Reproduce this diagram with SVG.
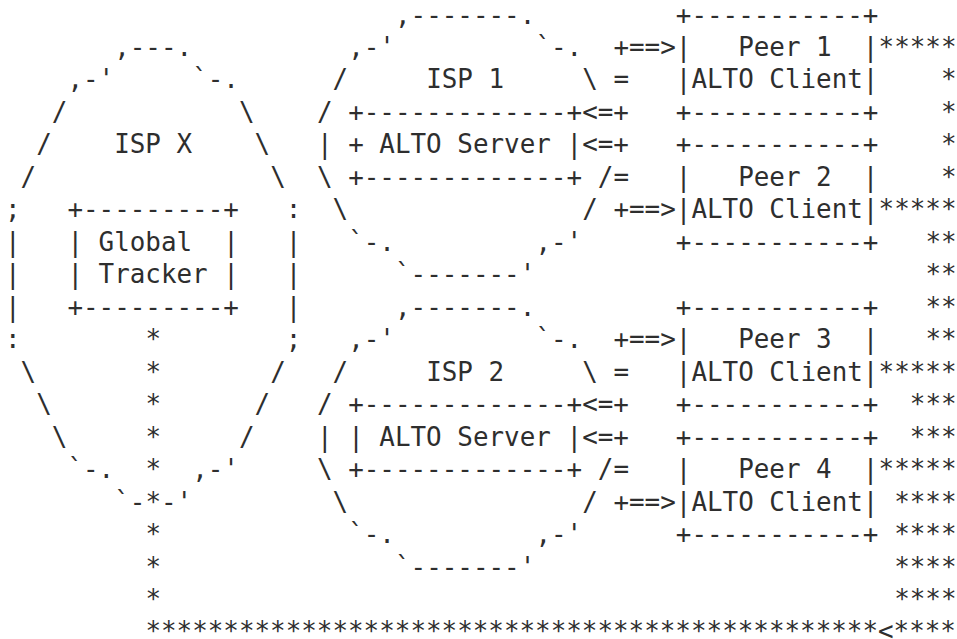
<svg xmlns="http://www.w3.org/2000/svg" width="957" height="639" viewBox="0 0 957 639" xml:space="preserve">
<style>
text{font-family:"DejaVu Sans Mono","Liberation Mono",monospace;font-size:25.9px;fill:#2e2e2e;white-space:pre}
</style>
<rect width="957" height="639" fill="#ffffff"/>
<g id="isp-x">
<text x="114.2" y="56">,---.</text>
<text x="67.4" y="88.4">,-'</text><text x="192.2" y="88.4">`-.</text>
<text x="51.8" y="120.9">/</text><text x="239" y="120.9">\</text>
<text x="36.2" y="153.4">/</text><text x="114.2" y="153.4">ISP X</text><text x="254.6" y="153.4">\</text>
<text x="20.6" y="185.9">/</text><text x="270.2" y="185.9">\</text>
<text x="5" y="218.3">;</text><text x="285.8" y="218.3">:</text>
<text x="5" y="250.8">|</text><text x="285.8" y="250.8">|</text>
<text x="5" y="283.3">|</text><text x="285.8" y="283.3">|</text>
<text x="5" y="315.7">|</text><text x="285.8" y="315.7">|</text>
<text x="5" y="348.2">:</text><text x="285.8" y="348.2">;</text>
<text x="20.6" y="380.7">\</text><text x="270.2" y="380.7">/</text>
<text x="36.2" y="413.1">\</text><text x="254.6" y="413.1">/</text>
<text x="51.8" y="445.6">\</text><text x="239" y="445.6">/</text>
<text x="67.4" y="478.1">`-.</text><text x="192.2" y="478.1">,-'</text>
<text x="114.2" y="510.6">`-</text><text x="161" y="510.6">-'</text>
</g>
<g id="global-tracker">
<text x="67.4" y="218.3">+---------+</text>
<text x="67.4" y="250.8">| Global  |</text>
<text x="67.4" y="283.3">| Tracker |</text>
<text x="67.4" y="315.7">+---------+</text>
</g>
<g id="isp-1">
<text x="395" y="23.5">,-------.</text>
<text x="348.2" y="56">,-'</text><text x="535.4" y="56">`-.</text>
<text x="332.6" y="88.4">/</text><text x="426.2" y="88.4">ISP 1</text><text x="582.2" y="88.4">\</text>
<text x="317" y="120.9">/</text>
<text x="317" y="153.4">|</text>
<text x="317" y="185.9">\</text><text x="597.8" y="185.9">/</text>
<text x="332.6" y="218.3">\</text><text x="582.2" y="218.3">/</text>
<text x="348.2" y="250.8">`-.</text><text x="535.4" y="250.8">,-'</text>
<text x="395" y="283.3">`-------'</text>
</g>
<g id="alto-server-1">
<text x="348.2" y="120.9">+-------------+</text>
<text x="348.2" y="153.4">+ ALTO Server |</text>
<text x="348.2" y="185.9">+-------------+</text>
</g>
<g id="isp-2">
<text x="395" y="315.7">,-------.</text>
<text x="348.2" y="348.2">,-'</text><text x="535.4" y="348.2">`-.</text>
<text x="332.6" y="380.7">/</text><text x="426.2" y="380.7">ISP 2</text><text x="582.2" y="380.7">\</text>
<text x="317" y="413.1">/</text>
<text x="317" y="445.6">|</text>
<text x="317" y="478.1">\</text><text x="597.8" y="478.1">/</text>
<text x="332.6" y="510.6">\</text><text x="582.2" y="510.6">/</text>
<text x="348.2" y="543">`-.</text><text x="535.4" y="543">,-'</text>
<text x="395" y="575.5">`-------'</text>
</g>
<g id="alto-server-2">
<text x="348.2" y="413.1">+-------------+</text>
<text x="348.2" y="445.6">| ALTO Server |</text>
<text x="348.2" y="478.1">+-------------+</text>
</g>
<g id="peer-1">
<text x="675.8" y="23.5">+-----------+</text>
<text x="675.8" y="56">|   Peer 1  |</text>
<text x="675.8" y="88.4">|ALTO Client|</text>
<text x="675.8" y="120.9">+-----------+</text>
</g>
<g id="peer-2">
<text x="675.8" y="153.4">+-----------+</text>
<text x="675.8" y="185.9">|   Peer 2  |</text>
<text x="675.8" y="218.3">|ALTO Client|</text>
<text x="675.8" y="250.8">+-----------+</text>
</g>
<g id="peer-3">
<text x="675.8" y="315.7">+-----------+</text>
<text x="675.8" y="348.2">|   Peer 3  |</text>
<text x="675.8" y="380.7">|ALTO Client|</text>
<text x="675.8" y="413.1">+-----------+</text>
</g>
<g id="peer-4">
<text x="675.8" y="445.6">+-----------+</text>
<text x="675.8" y="478.1">|   Peer 4  |</text>
<text x="675.8" y="510.6">|ALTO Client|</text>
<text x="675.8" y="543">+-----------+</text>
</g>
<g id="connectors">
<text x="613.4" y="56">+==&gt;</text>
<text x="613.4" y="88.4">=</text>
<text x="582.2" y="120.9">&lt;=+</text>
<text x="582.2" y="153.4">&lt;=+</text>
<text x="613.4" y="185.9">=</text>
<text x="613.4" y="218.3">+==&gt;</text>
<text x="613.4" y="348.2">+==&gt;</text>
<text x="613.4" y="380.7">=</text>
<text x="582.2" y="413.1">&lt;=+</text>
<text x="582.2" y="445.6">&lt;=+</text>
<text x="613.4" y="478.1">=</text>
<text x="613.4" y="510.6">+==&gt;</text>
<text x="145.4" y="348.2">*</text>
<text x="145.4" y="380.7">*</text>
<text x="145.4" y="413.1">*</text>
<text x="145.4" y="445.6">*</text>
<text x="145.4" y="478.1">*</text>
<text x="145.4" y="510.6">*</text>
<text x="145.4" y="543">*</text>
<text x="145.4" y="575.5">*</text>
<text x="145.4" y="608">*</text>
<text x="145.4" y="640.4">***********************************************&lt;****</text>
<text x="878.6" y="56">*****</text>
<text x="941" y="88.4">*</text>
<text x="941" y="120.9">*</text>
<text x="941" y="153.4">*</text>
<text x="941" y="185.9">*</text>
<text x="878.6" y="218.3">*****</text>
<text x="925.4" y="250.8">**</text>
<text x="925.4" y="283.3">**</text>
<text x="925.4" y="315.7">**</text>
<text x="925.4" y="348.2">**</text>
<text x="878.6" y="380.7">*****</text>
<text x="909.8" y="413.1">***</text>
<text x="909.8" y="445.6">***</text>
<text x="878.6" y="478.1">*****</text>
<text x="894.2" y="510.6">****</text>
<text x="894.2" y="543">****</text>
<text x="894.2" y="575.5">****</text>
<text x="894.2" y="608">****</text>
</g>
</svg>
